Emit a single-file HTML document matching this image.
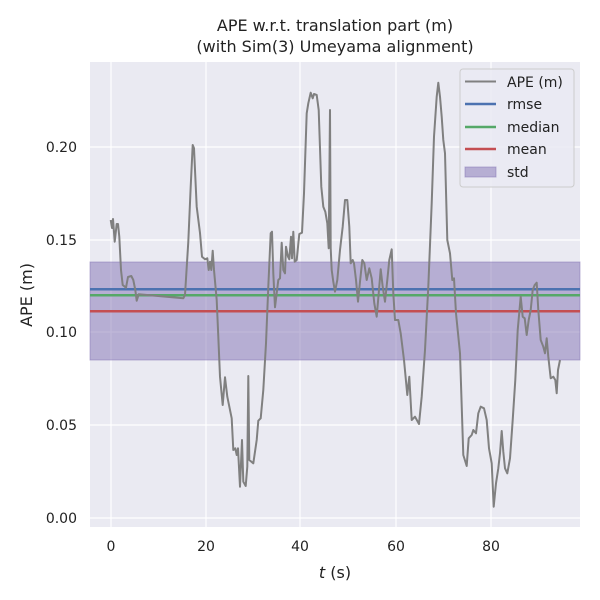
<!DOCTYPE html>
<html><head><meta charset="utf-8"><style>body{margin:0;background:#fff}svg{display:block}</style></head><body>
<svg width="600" height="600" xmlns="http://www.w3.org/2000/svg" font-family="'DejaVu Sans', 'Liberation Sans', sans-serif">
<rect x="90" y="62" width="490" height="465" fill="#eaeaf2"/>
<g stroke="#fff" stroke-width="1.2">
<line x1="111" y1="62" x2="111" y2="527"/><line x1="206" y1="62" x2="206" y2="527"/><line x1="300" y1="62" x2="300" y2="527"/><line x1="396" y1="62" x2="396" y2="527"/><line x1="491" y1="62" x2="491" y2="527"/>
<line x1="90" y1="147" x2="580" y2="147"/><line x1="90" y1="240" x2="580" y2="240"/><line x1="90" y1="332" x2="580" y2="332"/><line x1="90" y1="425" x2="580" y2="425"/><line x1="90" y1="518" x2="580" y2="518"/>
</g>
<rect x="90" y="262" width="490" height="98" fill="#8172b3" fill-opacity="0.5" stroke="#8172b3" stroke-opacity="0.5"/>
<line x1="90" y1="289.3" x2="580" y2="289.3" stroke="#4c72b0" stroke-width="2.5"/>
<line x1="90" y1="295.3" x2="580" y2="295.3" stroke="#55a868" stroke-width="2.5"/>
<line x1="90" y1="311.3" x2="580" y2="311.3" stroke="#c44e52" stroke-width="2.5"/>
<polyline fill="none" stroke="#808080" stroke-width="2" stroke-linejoin="round" points="110.7,220 112,228 113,219 114.7,241.7 116.7,224 118,224 119.3,236.7 121,270 122.7,285 126,287.7 128,277 131.3,276 133.3,280 135.3,290 136.7,300.7 138.7,294.3 183.3,298.3 185,295 188.3,241.7 190.7,186.7 192.7,145 194,148.3 196.7,206.7 200,233 202,256.7 205,259.3 207.3,258.3 208.7,270 210,261.7 211.3,270 212.7,250.7 214,270 216.7,300 218.3,336.7 220,376.7 222.7,405 225,377.3 227.3,396.7 231.7,418.3 233.3,450 235.3,448.3 236.7,455 238,448.3 240,486.7 242,440 243.3,481.7 245.7,486 247.3,466.7 248.3,376 249.3,460 253.3,463.3 256.7,440 258.3,420.7 260.7,418.3 263.3,390 266,343.3 268.3,286.7 270.7,233.3 272,231.7 273.3,273.3 275,307.3 276.7,293.3 278.3,280 280,278.3 281.7,242.7 283.3,270 285,273.3 286,246.7 288,256.7 289.3,259.3 291,236.7 292,258.3 293.3,231.7 294.7,261.7 296.7,260 299.3,234 302,232.7 304,193.3 306.7,113.3 308.3,103.3 310.7,92.7 312.7,98.3 314,94 316.7,95 318.7,110 321.3,186.7 323.3,206.7 325.3,211.7 327.3,223.3 328.7,248.3 330,110 330.7,248.3 331.7,270 333.3,281.7 335,291.7 337.3,280 340,250 342.7,226.7 345,200 347.3,200 349.3,226.7 350.7,263.3 352.7,260 354,263.3 356,280 358,301.7 360,281.7 362.3,260 364.3,263.3 366.7,280 369.3,268.3 371.7,278.3 374.3,303.3 376.7,316.7 378.7,293.3 380.7,269.3 382.7,286.7 385,301.7 387.3,280 389.3,260 391.7,249.3 393.3,293.3 395,320 398.3,320 400.7,333.3 404,360 407.3,395 409.3,376.7 411.7,420 415,416.7 419,424 421.7,396.7 425,350 428.3,286.7 431.7,203.3 434,136.7 436.7,96.7 438.3,82.7 440,96.7 441.7,116.7 443.3,140 445,153.3 447.3,240 450,253.3 452.3,280 454,278.3 456,313.3 460,353.3 463.3,455 466.7,466 468.7,438.3 471.7,435 473.3,430 476,433.3 478.3,413.3 480.7,406.7 484,408.3 486.7,420 489,448.3 491.7,463.3 493.7,506.7 496,483.3 498.3,468.3 500,453.3 501.7,431 503.3,451.7 505,468.3 507.3,473.3 510,458.3 512.7,420 515.3,380 517.7,330 520.7,296.7 522.7,316.7 524.7,318.3 526.7,335 528.7,320 530.7,310 532.7,290 534.7,285 536.7,282.7 538.3,310 540.7,340 543.3,346.7 545,353.3 546.7,338.3 548.3,356.7 550.7,378.3 553.3,376.7 555.3,380 556.7,393.3 558,370 560,360"/>
<rect x="460" y="69" width="114" height="118" rx="3" fill="#eaeaf2" fill-opacity="0.8" stroke="#ccc"/>
<g stroke-width="2.5"><line x1="465" y1="81.5" x2="496" y2="81.5" stroke="#808080" stroke-width="2"/><line x1="465" y1="104" x2="496" y2="104" stroke="#4c72b0"/><line x1="465" y1="127" x2="496" y2="127" stroke="#55a868"/><line x1="465" y1="149" x2="496" y2="149" stroke="#c44e52"/></g>
<rect x="465" y="167" width="31" height="10" fill="#8172b3" fill-opacity="0.5" stroke="#8172b3" stroke-opacity="0.5"/>
<g font-size="14" fill="#222"><text x="507" y="87">APE (m)</text><text x="507" y="109">rmse</text><text x="507" y="132">median</text><text x="507" y="154">mean</text><text x="507" y="177">std</text></g>
<g font-size="14" fill="#222" text-anchor="end"><text x="77" y="152">0.20</text><text x="77" y="245">0.15</text><text x="77" y="337">0.10</text><text x="77" y="430">0.05</text><text x="77" y="523">0.00</text></g>
<g font-size="14" fill="#222" text-anchor="middle"><text x="111" y="551">0</text><text x="206" y="551">20</text><text x="300" y="551">40</text><text x="396" y="551">60</text><text x="491" y="551">80</text>
<text x="335" y="578" font-size="16"><tspan font-style="italic">t</tspan> (s)</text>
<text x="335" y="31" font-size="16">APE w.r.t. translation part (m)</text>
<text x="335" y="52" font-size="16">(with Sim(3) Umeyama alignment)</text></g>
<text transform="translate(32,295) rotate(-90)" font-size="16" fill="#222" text-anchor="middle">APE (m)</text>
</svg>
</body></html>
